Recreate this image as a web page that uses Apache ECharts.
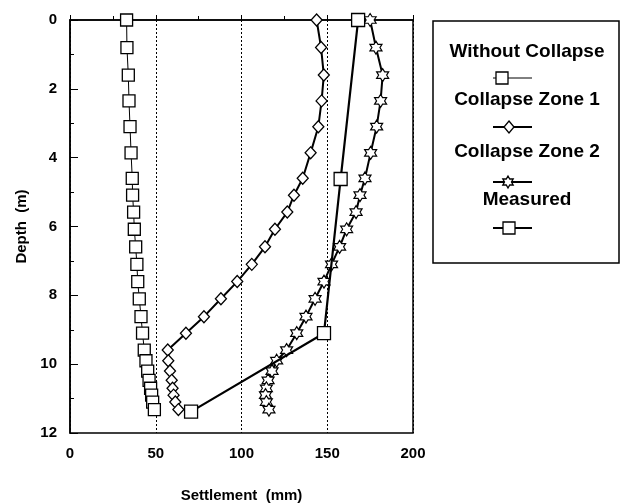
<!DOCTYPE html>
<html>
<head>
<meta charset="utf-8">
<script src="https://cdn.jsdelivr.net/npm/echarts@6/dist/echarts.min.js"></script>
<style>
  html, body { margin: 0; padding: 0; background: #fff; }
  #chart { width: 625px; height: 504px; }
</style>
</head>
<body>
<div id="chart"></div>
<script>
// depth of model nodes (m)
const modelDepths = [0, 0.8, 1.6, 2.35, 3.1, 3.86, 4.6, 5.09, 5.58, 6.08, 6.59, 7.1, 7.6, 8.1, 8.62, 9.1, 9.59, 9.9, 10.2, 10.47, 10.7, 10.9, 11.1, 11.32]
const withoutCollapse = [33, 33.2, 34, 34.4, 35, 35.6, 36.3, 36.5, 37.1, 37.5, 38.3, 39, 39.5, 40.4, 41.4, 42.3, 43.3, 44.3, 45.3, 46.1, 47, 47.6, 48.2, 49.2]
const collapseZone1 = [143.8, 146.4, 148, 146.7, 144.8, 140.3, 135.7, 130.6, 126.7, 119.5, 113.7, 106, 97.5, 88, 78.1, 67.6, 57, 57.3, 58.3, 59.3, 59.8, 60.4, 61.4, 63.2]
const collapseZone2 = [175, 178.4, 182.3, 181.1, 178.8, 175.3, 172, 169.1, 166.8, 161.3, 157.2, 152.5, 148.1, 142.9, 137.6, 132.2, 126.3, 120.5, 117.8, 115.5, 114.5, 114, 114.5, 116]
const measuredDepths = [0, 4.62, 9.1, 11.38]
const measured = [168, 157.8, 148.1, 70.6]

const xTicks = [0, 50, 100, 150, 200]
const yTicks = [0, 2, 4, 6, 8, 10, 12]

const legendNames = ['Without Collapse', 'Collapse Zone 1', 'Collapse Zone 2', 'Measured']

const starPath = 'path://M0,-10L2.9,-5L8.66,-5L5.8,0L8.66,5L2.9,5L0,10L-2.9,5L-8.66,5L-5.8,0L-8.66,-5L-2.9,-5Z'

function pairs(xs, ys) {
  return xs.map((v, i) => [v, ys[i]])
}

const chart = echarts.init(document.getElementById('chart'), null, { renderer: 'canvas' })

const labelFont = { color: '#000', fontFamily: 'Liberation Sans, Arial', fontWeight: 'bold', fontSize: 15 }

// legend drawn by hand: text on top, sample line+marker below
const legendRows = [
  { y: 52, my: 78, mx: 502 },
  { y: 100, my: 127, mx: 509 },
  { y: 152, my: 182, mx: 508 },
  { y: 200, my: 228, mx: 509 }
]
const legendGraphics = [
  { type: 'rect', shape: { x: 433, y: 21, width: 186, height: 242 }, style: { fill: '#fff', stroke: '#000', lineWidth: 1.5 }, z: 10 }
]
legendRows.forEach((r, i) => {
  legendGraphics.push({
    type: 'text', x: 527, y: r.y, z: 11,
    style: { text: legendNames[i], fill: '#000', font: 'bold 19px "Liberation Sans", Arial', align: 'center', verticalAlign: 'middle' }
  })
  legendGraphics.push({
    type: 'line', z: 11, shape: { x1: 493, y1: r.my, x2: 532, y2: r.my },
    style: { stroke: '#000', lineWidth: i === 0 ? 1 : 2 }
  })
})
const mk = { fill: '#fff', stroke: '#000', lineWidth: 1.3 }
const r0 = legendRows
legendGraphics.push({ type: 'rect', z: 12, shape: { x: r0[0].mx - 6, y: r0[0].my - 6, width: 12, height: 12 }, style: mk })
legendGraphics.push({ type: 'polygon', z: 12, shape: { points: [[0, -6], [5, 0], [0, 6], [-5, 0]].map(p => [r0[1].mx + p[0], r0[1].my + p[1]]) }, style: mk })
legendGraphics.push({
  type: 'polygon', z: 12,
  shape: { points: [[0, -10], [2.9, -5], [8.66, -5], [5.8, 0], [8.66, 5], [2.9, 5], [0, 10], [-2.9, 5], [-8.66, 5], [-5.8, 0], [-8.66, -5], [-2.9, -5]].map(p => [r0[2].mx + p[0] * 0.6, r0[2].my + p[1] * 0.6]) },
  style: mk
})
legendGraphics.push({ type: 'rect', z: 12, shape: { x: r0[3].mx - 6, y: r0[3].my - 6, width: 12, height: 12 }, style: mk })

chart.setOption({
  animation: false,
  backgroundColor: '#fff',
  grid: {
    left: 70, right: 212, top: 20, bottom: 71,
    outerBoundsMode: 'none',
    show: true, borderColor: '#000', borderWidth: 1.5
  },
  xAxis: {
    type: 'value',
    min: 0, max: 200, interval: 50,
    name: 'Settlement  (mm)',
    nameLocation: 'middle',
    nameGap: 55,
    nameTextStyle: { ...labelFont, fontSize: 15 },
    axisLine: { show: true, lineStyle: { color: '#000', width: 1.5 } },
    axisTick: { show: true, inside: true, length: 5, lineStyle: { color: '#000' } },
    minorTick: { show: true, splitNumber: 2, length: 4, lineStyle: { color: '#000' } },
    axisLabel: { ...labelFont, margin: 13, formatter: v => xTicks.includes(v) ? String(v) : '' },
    splitLine: { show: true, lineStyle: { color: '#000', type: [2, 2], width: 1 } }
  },
  yAxis: {
    type: 'value',
    inverse: true,
    min: 0, max: 12, interval: 2,
    name: 'Depth  (m)',
    nameLocation: 'middle',
    nameGap: 41,
    nameRotate: 90,
    nameTextStyle: { ...labelFont, fontSize: 15 },
    axisLine: { show: true, lineStyle: { color: '#000', width: 1.5 } },
    axisTick: { show: true, inside: true, length: 8, lineStyle: { color: '#000' } },
    minorTick: { show: true, splitNumber: 2, length: 4, lineStyle: { color: '#000' } },
    axisLabel: { ...labelFont, margin: 13, formatter: v => yTicks.includes(v) ? String(v) : '' },
    splitLine: { show: false }
  },
  graphic: legendGraphics,
  series: [
    {
      name: legendNames[0],
      type: 'line',
      data: pairs(withoutCollapse, modelDepths),
      symbol: 'rect',
      symbolSize: 12,
      lineStyle: { color: '#000', width: 1 },
      itemStyle: { color: '#fff', borderColor: '#000', borderWidth: 1.3 },
      z: 3
    },
    {
      name: legendNames[1],
      type: 'line',
      data: pairs(collapseZone1, modelDepths),
      symbol: 'diamond',
      symbolSize: [11, 12],
      lineStyle: { color: '#000', width: 2 },
      itemStyle: { color: '#fff', borderColor: '#000', borderWidth: 1.3 },
      z: 3
    },
    {
      name: legendNames[2],
      type: 'line',
      data: pairs(collapseZone2, modelDepths),
      symbol: starPath,
      symbolSize: [12, 13],
      lineStyle: { color: '#000', width: 2 },
      itemStyle: { color: '#fff', borderColor: '#000', borderWidth: 1.2 },
      z: 3
    },
    {
      name: legendNames[3],
      type: 'line',
      data: pairs(measured, measuredDepths),
      symbol: 'rect',
      symbolSize: 13,
      lineStyle: { color: '#000', width: 2.2 },
      itemStyle: { color: '#fff', borderColor: '#000', borderWidth: 1.3 },
      z: 4
    }
  ]
})
</script>
</body>
</html>
